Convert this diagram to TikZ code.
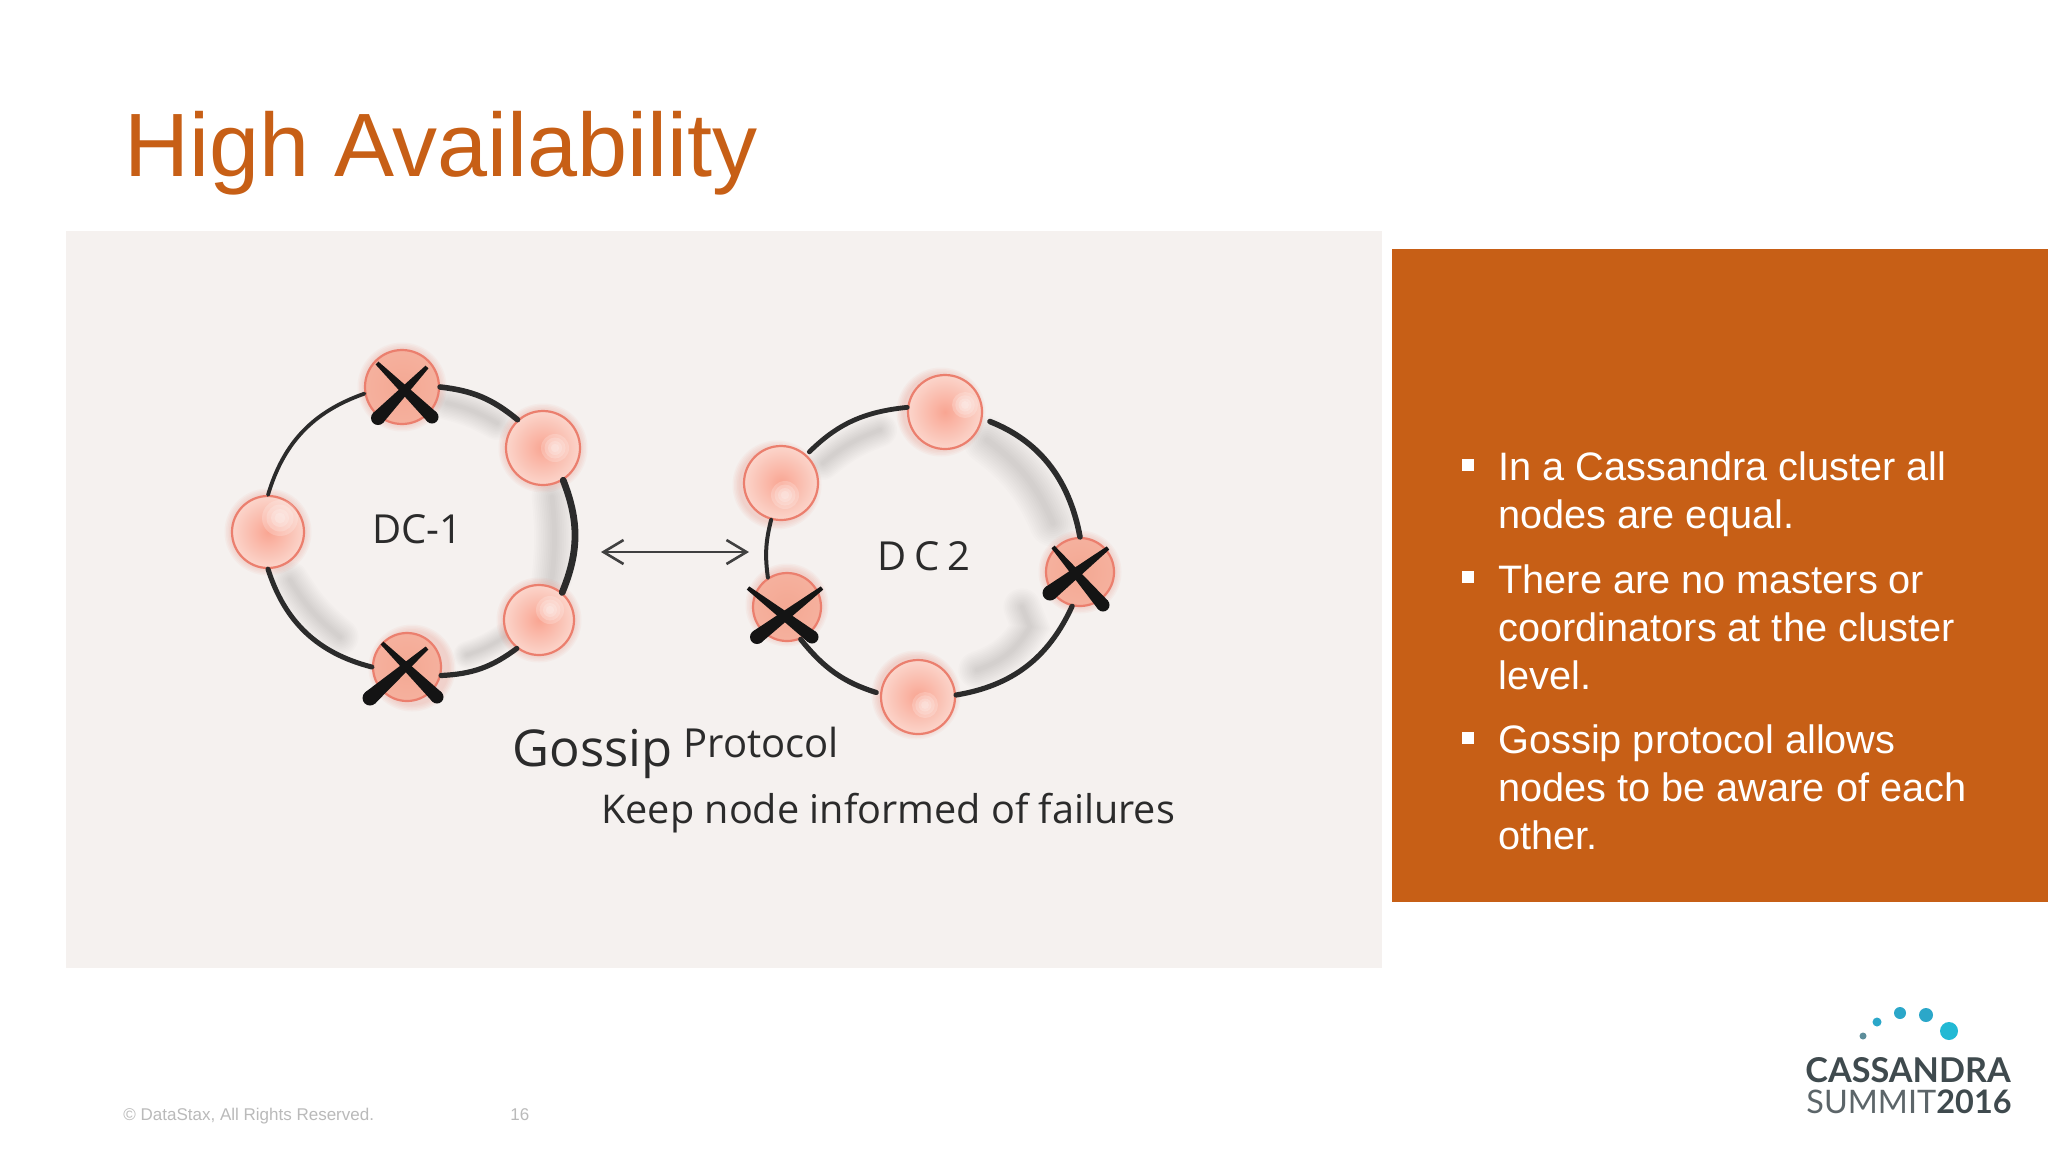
\documentclass[tikz,border=0pt]{standalone}
\usepackage{fontspec}
\setmainfont{Liberation Sans}
\newfontfamily\logofont{Lato}
\newfontfamily\handfont{Open Sans}
\usetikzlibrary{arrows.meta}
\definecolor{orangebox}{HTML}{C75F16}
\definecolor{panelgrey}{HTML}{F5F1EF}
\definecolor{ballrim}{HTML}{EB7F6E}
\definecolor{ballcore}{HTML}{F9A592}
\definecolor{ballpale}{HTML}{FBD5CB}
\definecolor{crosscore}{HTML}{F4A893}
\definecolor{inkdark}{HTML}{2B2B2B}
\definecolor{logodark}{HTML}{3F4A4E}
\definecolor{logoblue}{HTML}{2BA7C9}
\tikzset{
  ringball/.style={circle,draw=ballrim,line width=1.1pt,inner sep=0pt,inner color=ballcore,outer color=ballpale},
  crossball/.style={circle,draw=ballrim,line width=1.1pt,inner sep=0pt,inner color=crosscore,outer color=crosscore!90!white},
  ringarc/.style={draw=inkdark,line cap=round},
  handtext/.style={text=inkdark,inner sep=0pt,anchor=base west},
  bulletmark/.style={rectangle,fill=white,inner sep=0pt,minimum size=6pt},
  bullettext/.style={align=left,text=white,inner sep=0pt,anchor=north west,font=\fontsize{19.85}{24}\selectfont},
  footertext/.style={text=black!27,inner sep=0pt,anchor=base west,font=\fontsize{8.5}{11}\selectfont},
  logotext/.style={inner sep=0pt,anchor=base west},
}
% soft grey brush stroke under the ring
\newcommand{\softstroke}[2]{%
  \foreach \f in {1.7,1.55,1.4,1.25,1.1,0.95,0.8,0.65,0.5,0.35,0.2}{%
    \draw[black,opacity=0.012,line cap=round,line width=\f*#1*0.5pt] #2;}}
% halo round a ball
\newcommand{\halo}[3]{%
  \foreach \d in {1.5,3,4.5,6,7.5}{%
    \fill[ballrim,opacity=0.06] (#1,#2) circle ({#3+\d});}}
% soft highlight
\newcommand{\glint}[3]{%
  \foreach \d in {1,0.75,0.5,0.3}{%
    \fill[white,opacity=0.2] (#1,#2) circle ({#3*\d});}}
% tapered stroke of a cross
\newcommand{\taper}[6]{%
  \pgfmathsetmacro{\dx}{#3-#1}\pgfmathsetmacro{\dy}{#4-#2}
  \pgfmathsetmacro{\len}{veclen(\dx,\dy)}
  \pgfmathsetmacro{\nx}{-\dy/\len}\pgfmathsetmacro{\ny}{\dx/\len}
  \fill[black!92] ({#1+\nx*#5/2},{#2+\ny*#5/2}) -- ({#3+\nx*#6/2},{#4+\ny*#6/2})
     -- ({#3-\nx*#6/2},{#4-\ny*#6/2}) -- ({#1-\nx*#5/2},{#2-\ny*#5/2}) -- cycle;
  \fill[black!92] (#3,#4) circle ({#6/2});}
\begin{document}
\begin{tikzpicture}[x=0.5pt,y=-0.5pt]
\useasboundingbox (0,0) rectangle (2048,1152);
\fill[white] (0,0) rectangle (2048,1152);
\fill[panelgrey] (66,231) rectangle (1382,968);
\fill[orangebox] (1392,249) rectangle (2048,902);

\node[inner sep=0pt,anchor=base west,text=orangebox,font=\fontsize{45}{54}\selectfont] (title) at (124,176) {High Availability};

% grey brush strokes
\softstroke{20}{(447,403) to[bend left=8] (497,423)}
\softstroke{24}{(552,497) to[bend left=6] (552,578)}
\softstroke{16}{(467,655) to[bend right=8] (507,635)}
\softstroke{22}{(290,580) to[bend right=10] (340,637)}
\softstroke{20}{(823,463) to[bend left=10] (880,430)}
\softstroke{28}{(987,440) to[bend left=15] (1053,523)}
\softstroke{22}{(1022,607) -- (1030,627) to[bend left=20] (977,670)}

% halos
\halo{402}{387}{37}\halo{543}{448}{37}\halo{268}{532}{36}\halo{539}{620}{35}\halo{412}{668}{36}
\halo{941}{412}{37}\halo{777}{485}{37}\halo{787}{605}{34}\halo{1080}{572}{34}\halo{916}{695}{37}

% DC-1 balls
\node[crossball,minimum size=37pt] (a1) at (402,387) {};
\node[ringball,minimum size=37pt] (a2) at (543,448) {};
\node[ringball,minimum size=36pt] (a3) at (268,532) {};
\node[ringball,minimum size=35pt] (a4) at (539,620) {};
\node[crossball,minimum size=34pt] (a5) at (407,667) {};
% DC2 balls
\node[ringball,minimum size=37pt] (b1) at (945,412) {};
\node[ringball,minimum size=37pt] (b2) at (781,483) {};
\node[crossball,minimum size=34pt] (b3) at (787,607) {};
\node[crossball,minimum size=34pt] (b4) at (1080,572) {};
\node[ringball,minimum size=37pt] (b5) at (918,697) {};

\glint{555}{448}{14}\glint{280}{518}{18}\glint{550}{610}{14}
\glint{965}{405}{13}\glint{785}{495}{14}\glint{925}{705}{13}

% DC-1 ring
\draw[ringarc,line width=2.8pt] (a1.0) to[bend left=16.5] (a2.132);
\draw[ringarc,line width=3.4pt] (a2.-58) to[bend left=22] (a4.50);
\draw[ringarc,line width=2.6pt] (a4.232) to[bend left=17] (a5.-14);
\draw[ringarc,line width=2.5pt] (a5.180) to[bend left=29] (a3.-90);
\draw[ringarc,line width=1.9pt] (a3.90) to[bend left=27] (a1.190);
% DC2 ring
\draw[ringarc,line width=2.4pt,shorten <=2pt] (b2.48) to[bend left=19.5] (b1.173);
\draw[ringarc,line width=2.8pt,shorten <=4pt] (b1.-10) to[bend left=29] (b4.90);
\draw[ringarc,line width=2.6pt] (b4.257) to[bend left=28] (b5.3);
\draw[ringarc,line width=2.6pt,shorten <=2pt] (b5.175) to[bend left=17] (b3.-67);
\draw[ringarc,line width=2pt] (b3.123) to[bend left=11] (b2.255);

% crosses
\taper{377}{363}{432}{417}{4}{13}
\taper{427}{367}{378}{418}{4}{14}
\taper{382}{643}{437}{697}{4}{13}
\taper{427}{648}{370}{698}{4}{15}
\taper{748}{588}{812}{637}{4}{13}
\taper{822}{588}{757}{637}{4}{14}
\taper{1053}{547}{1103}{605}{4}{13}
\taper{1108}{548}{1050}{593}{4}{15}

% handwritten labels
\node[handtext,font=\handfont\fontsize{20}{22}\selectfont] (dc1) at (372,543) {DC-1};
\node[handtext,font={\handfont\addfontfeature{LetterSpace=20}\fontsize{20}{22}\selectfont}] (dc2) at (877,570) {DC2};
\node[handtext,font=\handfont\fontsize{25.4}{28}\selectfont] (gossip) at (512,766) {Gossip};
\node[handtext,font=\handfont\fontsize{20}{22}\selectfont] (protocol) at (683,757) {Protocol};
\node[handtext,font=\handfont\fontsize{19.8}{22}\selectfont] (keep) at (601,823) {Keep node informed of failures};

% double arrow
\coordinate (arrowl) at (601,552);
\coordinate (arrowr) at (749,552);
\draw[draw=black!75,line width=1.3pt,{Straight Barb[length=10pt,width=12pt]}-{Straight Barb[length=10pt,width=12pt]}] (arrowl) -- (arrowr);

% bullets
\node[bulletmark] (m1) at (1468,465) {};
\node[bullettext] (t1) at (1498,451) {In a Cassandra cluster all\\nodes are equal.};
\node[bulletmark] (m2) at (1468,577) {};
\node[bullettext] (t2) at (1498,564) {There are no masters or\\coordinators at the cluster\\level.};
\node[bulletmark] (m3) at (1468,738) {};
\node[bullettext] (t3) at (1498,724) {Gossip protocol allows\\nodes to be aware of each\\other.};

% footer
\node[footertext] (copy) at (123,1120) {© DataStax, All Rights Reserved.};
\node[footertext] (pageno) at (510,1120) {16};

% logo
\fill[black!45!logoblue!70] (1863,1036) circle (3.5);
\fill[logoblue] (1877,1022) circle (4.5);
\fill[logoblue] (1900,1013) circle (6);
\fill[logoblue] (1926,1015) circle (7);
\fill[logoblue!80!cyan] (1949,1031) circle (9);
\node[logotext,text=logodark,font=\logofont\bfseries\fontsize{17.1}{18}\selectfont] (cass) at (1805,1082) {CASSANDRA};
\node[logotext,text=logodark!85,font=\logofont\fontsize{16.2}{18}\selectfont] (summit) at (1806,1113) {SUMMIT};
\node[logotext,text=logodark,font=\logofont\bfseries\fontsize{16.2}{18}\selectfont] (year) at (1936,1113) {2016};
\end{tikzpicture}
\end{document}
